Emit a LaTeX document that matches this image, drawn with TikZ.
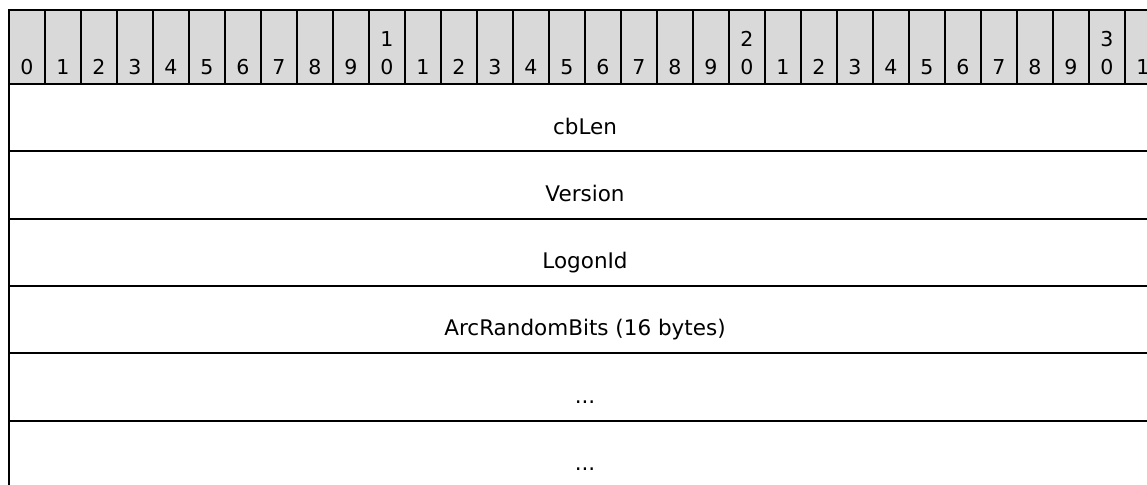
\documentclass[tikz,border=0pt]{standalone}
\usepackage{fontspec}
\setmainfont{DejaVu Sans}
\usetikzlibrary{positioning}
\definecolor{rulergray}{HTML}{D9D9D9}

\begin{document}
\begin{tikzpicture}[
        x=1pt, y=1pt,
        bitcell/.style={rectangle, draw, line width=2pt, fill=rulergray, minimum width=36pt, minimum height=74pt, inner sep=0pt, outer sep=0pt, anchor=north west},
        bitnum/.style={inner sep=0pt, align=center, anchor=south, font=\fontsize{20.5}{28}\selectfont},
        field/.style={rectangle, draw, line width=2pt, minimum width=1152pt, inner xsep=0pt, inner ysep=0pt, outer sep=0pt, text height=50pt, text depth=17.3pt, anchor=north west, font=\fontsize{21.5}{26}\selectfont}
    ]
    \useasboundingbox (0,0) rectangle (1147,-484);
    \clip (0,0) rectangle (1147,-484);

    % Bit ruler
    \foreach \i in {0,...,31} {
        \pgfmathtruncatemacro{\ones}{mod(\i,10)}
        \pgfmathtruncatemacro{\tens}{\i/10}
        \ifnum\ones=0 \ifnum\i>0 \def\lbl{\tens\\\ones}\else\def\lbl{\ones}\fi\else\def\lbl{\ones}\fi
        \node[bitcell] (b\i) at (9+36*\i, -10) {};
        \node[bitnum] (n\i) at ([yshift=9pt]b\i.south) {\lbl};
    }

    % Fields
    \node[field] (cblen) at (9,-84) {cbLen};
    \node[field, below=0pt of cblen] (version) {Version};
    \node[field, below=0pt of version] (logonid) {LogonId};
    \node[field, below=0pt of logonid] (arcbits) {ArcRandomBits (16 bytes)};
    \node[field, below=0pt of arcbits] (more1) {...};
    \node[field, below=0pt of more1] (more2) {...};

\end{tikzpicture}
\end{document}
